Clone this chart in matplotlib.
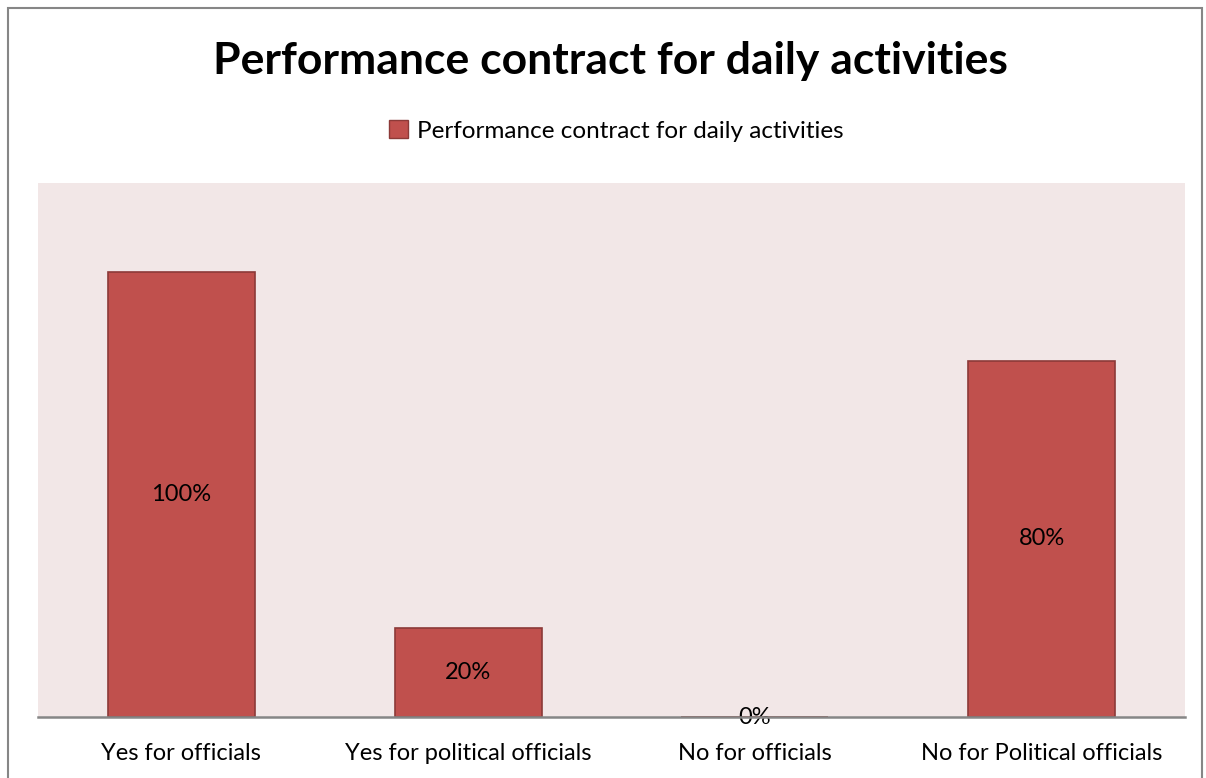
import matplotlib.pyplot as plt
from matplotlib.patches import Rectangle, Patch

plt.rcParams['font.family'] = ['Lato', 'DejaVu Sans']

categories = ["Yes for officials", "Yes for political officials",
              "No for officials", "No for Political officials"]
values = [1.00, 0.20, 0.00, 0.80]
series_name = "Performance contract for daily activities"

bar_color = "#C0504D"
edge_color = "#8C3A38"

fig = plt.figure(figsize=(12.06, 7.78), dpi=100)
ax = fig.add_axes([0.0315, 0.0784, 0.951, 0.6864])
ax.set_facecolor("#F2E7E7")

x = range(len(categories))
bars = ax.bar(x, values, width=0.513, color=bar_color,
              edgecolor=edge_color, linewidth=1.2, zorder=2)

# value labels in the middle of each bar
for xi, v in zip(x, values):
    ax.text(xi, v / 2, f"{v:.0%}", ha="center", va="center",
            fontsize=17, color="black", zorder=3)

ax.set_xlim(-0.5, len(categories) - 0.5)
ax.set_ylim(0, 1.2)
ax.set_yticks([])
ax.set_xticks(list(x))
ax.set_xticklabels(categories, fontsize=17)
ax.tick_params(axis="x", length=0, pad=19)

for side in ["top", "right", "left"]:
    ax.spines[side].set_visible(False)
ax.spines["bottom"].set_color("#868686")
ax.spines["bottom"].set_linewidth(1.8)
ax.spines["bottom"].set_zorder(4)

fig.text(0.506, 0.922, series_name, ha="center", va="center",
         fontsize=32, fontweight="bold")

leg = fig.legend(handles=[Patch(facecolor=bar_color, edgecolor=edge_color,
                                label=series_name)],
                 loc="center", bbox_to_anchor=(0.511, 0.832), frameon=False,
                 fontsize=17.5, handlelength=0.8, handleheight=0.8,
                 handletextpad=0.35)

# outer chart frame
fig.add_artist(Rectangle((0.0065, -0.05), 0.9905, 1.04, transform=fig.transFigure,
                         fill=False, edgecolor="#868686", linewidth=1.5))

fig.savefig("out.png", dpi=100)
